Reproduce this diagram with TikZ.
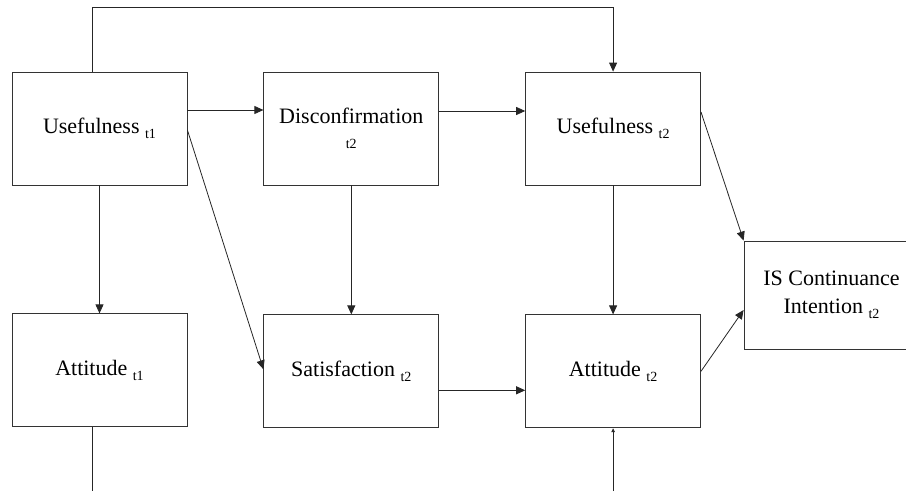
\documentclass[tikz,border=0pt]{standalone}
\usepackage{fontspec}
\setmainfont{Liberation Serif}
\usetikzlibrary{arrows.meta, positioning}
\newcommand{\tsize}{\fontsize{14}{14}\selectfont}
\newcommand{\tsub}[1]{\raisebox{-5pt}{\tsize #1}}

\begin{document}
\begin{tikzpicture}[
        x=1pt, y=-1pt,
        font=\fontsize{22}{28}\selectfont,
        block/.style={
            rectangle,
            draw=black!80,
            line width=0.8pt,
            align=center,
            minimum width=175pt,
            minimum height=113pt,
            inner sep=2pt
        },
        link/.style={
            draw=black!85,
            line width=0.8pt
        },
        arrow/.style={
            link,
            -{Triangle[length=9pt,width=8pt]}
        },
        smallarrow/.style={
            link,
            -{Triangle[length=4pt,width=3.5pt]}
        }
    ]
    \useasboundingbox (0,0) rectangle (906,491);
    \clip (0,0) rectangle (906,491);

    % Time 1 and time 2 constructs
    \node[block] (u1) at (99.5,128.5) {Usefulness \tsub{t1}};
    \node[block, right=76pt of u1] (d2) {Disconfirmation\\[-3pt]{\tsize t2}};
    \node[block, right=86pt of d2] (u2) {Usefulness \tsub{t2}};
    \node[block, below=128pt of u1] (a1) {Attitude \tsub{t1}};
    \node[block, below=129pt of d2] (s2) {Satisfaction \tsub{t2}};
    \node[block, below=129pt of u2] (a2) {Attitude \tsub{t2}};
    \node[block, minimum height=108pt] (isc) at (831.5,295) {IS Continuance\\Intention \tsub{t2}};

    \coordinate (top) at (0,7);
    \coordinate (bottom) at (0,491);
    \coordinate (u1out) at ([xshift=-7.5pt]u1.north);
    \coordinate (a1out) at ([xshift=-7.5pt]a1.south);

    % Feedback line over the top
    \draw[arrow] (u1out) |- (top -| u2.north) -- (u2.north);

    % Paths between the boxes
    \draw[arrow] ([yshift=18.5pt]u1.east) -- ([yshift=18.5pt]d2.west);
    \draw[arrow] ([yshift=17.5pt]d2.east) -- ([yshift=17.5pt]u2.west);
    \draw[arrow] (u1.south) -- (a1.north);
    \draw[arrow] ([yshift=-1.5pt]u1.east) -- ([yshift=2pt]s2.west);
    \draw[arrow] (d2.south) -- (s2.north);
    \draw[arrow] (u2.south) -- (a2.north);
    \draw[arrow] ([yshift=-19pt]s2.east) -- ([yshift=-19pt]a2.west);
    \draw[arrow] ([yshift=16.5pt]u2.east) -- (isc.north west);
    \draw[arrow] (a2.east) -- ([yshift=-15pt]isc.west);

    % Open ends at the bottom
    \draw[smallarrow] (a2.south |- bottom) -- (a2.south);
    \draw[link] (a1out) -- (a1out |- bottom);

\end{tikzpicture}
\end{document}
